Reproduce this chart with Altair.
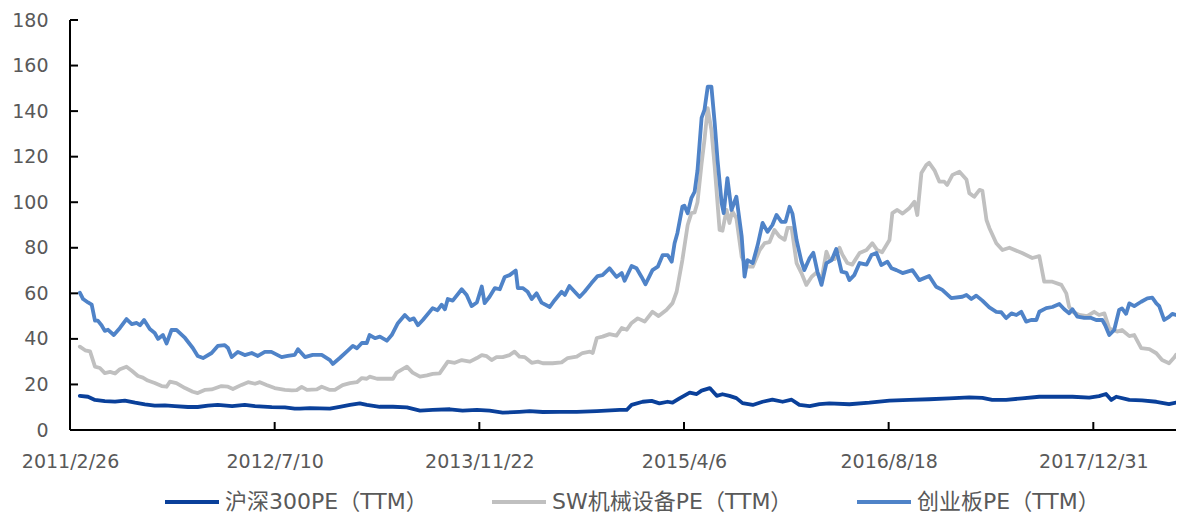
import altair as alt
import pandas as pd

# ---------------- data ----------------
SERIES = ["沪深300PE（TTM）", "SW机械设备PE（TTM）", "创业板PE（TTM）"]
COLORS = ["#0A409A", "#C0C0C0", "#4F83C8"]

HS300_DATES = [
    "2011-03-22", "2011-04-11", "2011-04-28", "2011-05-22", "2011-06-16", "2011-07-10",
    "2011-08-04", "2011-08-28", "2011-09-21", "2011-10-16", "2011-11-09", "2011-12-11",
    "2012-01-04", "2012-01-29", "2012-02-22", "2012-03-28", "2012-04-28", "2012-05-23",
    "2012-07-03", "2012-08-04", "2012-08-28", "2012-09-10", "2012-10-04", "2012-11-22",
    "2012-12-16", "2013-01-10", "2013-02-03", "2013-02-20", "2013-03-24", "2013-04-25",
    "2013-05-29", "2013-06-30", "2013-07-31", "2013-09-11", "2013-10-12", "2013-11-16",
    "2013-12-17", "2014-01-18", "2014-02-28", "2014-03-25", "2014-04-26", "2014-06-06",
    "2014-07-18", "2014-09-05", "2014-10-31", "2014-11-17", "2014-11-29", "2014-12-26",
    "2015-01-17", "2015-02-05", "2015-02-25", "2015-03-09", "2015-03-26", "2015-04-20",
    "2015-05-07", "2015-05-19", "2015-06-08", "2015-06-25", "2015-07-09", "2015-07-26",
    "2015-08-12", "2015-08-27", "2015-09-21", "2015-10-15", "2015-11-08", "2015-12-03",
    "2015-12-25", "2016-01-13", "2016-02-07", "2016-03-02", "2016-03-26", "2016-05-14",
    "2016-07-02", "2016-08-20", "2016-10-08", "2016-11-25", "2017-01-13", "2017-03-03",
    "2017-04-04", "2017-04-28", "2017-06-01", "2017-07-10", "2017-08-21", "2017-10-01",
    "2017-11-10", "2017-12-21", "2018-01-14", "2018-01-31", "2018-02-13", "2018-02-25",
    "2018-03-29", "2018-04-29", "2018-06-03", "2018-07-04", "2018-07-21",
]
HS300_VALUES = [
    15.0, 14.6, 13.2, 12.7, 12.5, 12.9,
    12.0, 11.3, 10.7, 10.8, 10.5, 10.1,
    10.1, 10.7, 11.0, 10.5, 11.0, 10.5,
    10.0, 9.9, 9.4, 9.4, 9.6, 9.4,
    10.2, 11.0, 11.7, 11.0, 10.2, 10.2,
    9.9, 8.5, 8.8, 9.1, 8.5, 8.8,
    8.5, 7.6, 8.0, 8.3, 7.9, 8.0,
    8.0, 8.3, 8.8, 8.8, 11.0, 12.4,
    12.8, 11.7, 12.4, 12.0, 13.9, 16.4,
    15.8, 17.3, 18.4, 15.0, 15.7, 15.0,
    14.0, 11.8, 11.0, 12.4, 13.3, 12.4,
    13.3, 11.0, 10.5, 11.4, 11.7, 11.3,
    12.0, 12.9, 13.2, 13.5, 13.9, 14.3,
    14.1, 13.2, 13.2, 13.9, 14.6, 14.6,
    14.6, 14.2, 14.9, 15.8, 13.2, 14.6,
    13.2, 13.0, 12.4, 11.4, 12.0,
]

SW_DATES = [
    "2011-03-22", "2011-04-04", "2011-04-16", "2011-04-28", "2011-05-10", "2011-05-22",
    "2011-06-04", "2011-06-16", "2011-06-28", "2011-07-14", "2011-07-27", "2011-08-11",
    "2011-08-23", "2011-09-04", "2011-09-21", "2011-10-08", "2011-10-20", "2011-10-28",
    "2011-11-13", "2011-12-04", "2011-12-23", "2012-01-04", "2012-01-21", "2012-02-07",
    "2012-03-02", "2012-03-18", "2012-03-30", "2012-04-20", "2012-05-06", "2012-05-23",
    "2012-06-04", "2012-06-20", "2012-07-10", "2012-08-04", "2012-08-21", "2012-09-02",
    "2012-09-14", "2012-09-27", "2012-10-21", "2012-11-02", "2012-11-22", "2012-12-04",
    "2012-12-23", "2013-01-10", "2013-01-27", "2013-02-08", "2013-02-20", "2013-02-27",
    "2013-03-17", "2013-04-05", "2013-04-25", "2013-05-04", "2013-05-29", "2013-06-12",
    "2013-06-30", "2013-07-17", "2013-07-31", "2013-08-17", "2013-09-06", "2013-09-23",
    "2013-10-10", "2013-10-30", "2013-11-16", "2013-11-28", "2013-12-10", "2013-12-22",
    "2014-01-03", "2014-01-18", "2014-02-04", "2014-02-16", "2014-02-28", "2014-03-13",
    "2014-03-30", "2014-04-14", "2014-04-26", "2014-05-20", "2014-06-11", "2014-06-26",
    "2014-07-18", "2014-08-01", "2014-08-19", "2014-08-26", "2014-09-05", "2014-09-19",
    "2014-10-06", "2014-10-23", "2014-11-05", "2014-11-17", "2014-11-29", "2014-12-14",
    "2014-12-31", "2015-01-19", "2015-02-03", "2015-02-22", "2015-03-09", "2015-03-19",
    "2015-04-02", "2015-04-15", "2015-04-24", "2015-05-02", "2015-05-09", "2015-05-19",
    "2015-05-26", "2015-06-03", "2015-06-12", "2015-06-20", "2015-07-02", "2015-07-09",
    "2015-07-19", "2015-07-26", "2015-08-02", "2015-08-12", "2015-08-25", "2015-09-06",
    "2015-09-21", "2015-10-08", "2015-10-20", "2015-11-01", "2015-11-13", "2015-11-25",
    "2015-12-08", "2015-12-15", "2015-12-25", "2016-01-06", "2016-01-18", "2016-01-30",
    "2016-02-12", "2016-02-24", "2016-03-07", "2016-03-19", "2016-03-26", "2016-04-08",
    "2016-04-20", "2016-04-27", "2016-05-09", "2016-05-21", "2016-06-08", "2016-06-25",
    "2016-07-09", "2016-07-21", "2016-08-02", "2016-08-20", "2016-08-27", "2016-09-08",
    "2016-09-21", "2016-10-08", "2016-10-20", "2016-10-27", "2016-11-06", "2016-11-18",
    "2016-11-25", "2016-12-08", "2016-12-20", "2017-01-01", "2017-01-08", "2017-01-21",
    "2017-02-07", "2017-02-24", "2017-03-03", "2017-03-15", "2017-03-28", "2017-04-04",
    "2017-04-14", "2017-04-21", "2017-05-08", "2017-05-23", "2017-06-09", "2017-07-10",
    "2017-08-04", "2017-08-21", "2017-09-02", "2017-09-22", "2017-10-14", "2017-10-26",
    "2017-11-02", "2017-11-10", "2017-11-27", "2017-12-16", "2018-01-02", "2018-01-14",
    "2018-01-27", "2018-02-08", "2018-02-27", "2018-03-11", "2018-03-29", "2018-04-10",
    "2018-04-27", "2018-05-17", "2018-06-03", "2018-06-17", "2018-07-04", "2018-07-17",
    "2018-07-21",
]
SW_VALUES = [
    36.6, 35.0, 34.5, 27.8, 27.2, 25.0,
    25.5, 24.8, 26.7, 27.8, 26.0, 23.7,
    23.0, 21.7, 20.6, 19.3, 19.0, 21.2,
    20.6, 18.4, 16.8, 16.2, 17.6, 17.8,
    19.3, 19.0, 18.0, 19.8, 21.0, 20.3,
    21.0, 19.8, 18.4, 17.6, 17.4, 17.5,
    18.9, 17.6, 17.8, 19.0, 17.6, 17.6,
    19.7, 20.6, 21.0, 22.8, 22.5, 23.4,
    22.5, 22.5, 22.5, 25.2, 27.8, 25.2,
    23.4, 24.0, 24.6, 24.9, 30.0, 29.5,
    30.7, 30.0, 31.6, 32.9, 32.4, 30.7,
    32.0, 32.0, 32.9, 34.4, 32.2, 32.0,
    29.5, 30.0, 29.3, 29.3, 29.7, 31.6,
    32.2, 33.8, 34.4, 33.8, 40.4, 41.0,
    42.1, 41.4, 44.8, 44.0, 47.0, 49.0,
    47.6, 51.9, 50.0, 52.7, 55.7, 60.7,
    74.6, 90.0, 95.2, 95.5, 100.0, 117.0,
    127.3, 141.3, 131.7, 115.6, 87.8, 87.5,
    96.6, 90.9, 96.0, 93.0, 76.0, 71.7,
    71.7, 79.0, 82.0, 82.5, 87.8, 85.0,
    83.5, 88.7, 88.7, 73.3, 68.9, 63.7,
    67.3, 69.2, 66.0, 78.3, 75.0, 75.0,
    80.0, 77.0, 73.3, 72.6, 77.7, 79.0,
    82.0, 79.0, 78.0, 83.4, 95.2, 96.6,
    95.0, 97.5, 100.2, 94.4, 112.8, 116.3,
    117.3, 114.0, 109.0, 109.0, 107.6, 112.0,
    113.4, 110.0, 104.0, 102.4, 105.4, 105.0,
    92.2, 88.7, 82.0, 79.0, 80.0, 77.7,
    75.5, 76.3, 65.1, 65.1, 63.7, 60.0,
    54.1, 51.9, 50.5, 50.0, 51.9, 50.5,
    51.2, 44.6, 43.2, 43.9, 41.2, 41.7,
    35.9, 35.5, 33.7, 30.7, 29.3, 31.9,
    33.0,
]

CYB_DATES = [
    "2011-03-22", "2011-03-30", "2011-04-11", "2011-04-20", "2011-04-28", "2011-05-05",
    "2011-05-14", "2011-05-22", "2011-05-30", "2011-06-13", "2011-06-28", "2011-07-14",
    "2011-07-27", "2011-08-08", "2011-08-16", "2011-08-26", "2011-09-09", "2011-09-21",
    "2011-09-29", "2011-10-11", "2011-10-20", "2011-11-01", "2011-11-13", "2011-12-04",
    "2011-12-23", "2012-01-04", "2012-01-17", "2012-02-07", "2012-02-22", "2012-03-10",
    "2012-03-18", "2012-03-27", "2012-04-11", "2012-04-28", "2012-05-15", "2012-05-30",
    "2012-06-16", "2012-07-02", "2012-07-27", "2012-08-11", "2012-08-28", "2012-09-05",
    "2012-09-22", "2012-10-11", "2012-11-02", "2012-11-22", "2012-11-29", "2012-12-16",
    "2013-01-02", "2013-01-17", "2013-01-27", "2013-02-08", "2013-02-20", "2013-02-27",
    "2013-03-12", "2013-03-24", "2013-04-10", "2013-04-22", "2013-05-07", "2013-05-24",
    "2013-06-05", "2013-06-15", "2013-06-25", "2013-07-07", "2013-07-31", "2013-08-12",
    "2013-08-22", "2013-08-30", "2013-09-06", "2013-09-18", "2013-10-10", "2013-10-22",
    "2013-11-03", "2013-11-16", "2013-11-28", "2013-12-05", "2013-12-17", "2013-12-30",
    "2014-01-11", "2014-01-23", "2014-02-04", "2014-02-19", "2014-02-24", "2014-03-08",
    "2014-03-20", "2014-03-30", "2014-04-11", "2014-04-23", "2014-05-13", "2014-05-25",
    "2014-06-11", "2014-06-19", "2014-06-30", "2014-07-13", "2014-07-25", "2014-08-06",
    "2014-08-23", "2014-09-07", "2014-09-19", "2014-10-06", "2014-10-23", "2014-11-05",
    "2014-11-12", "2014-11-29", "2014-12-11", "2014-12-23", "2015-01-02", "2015-01-19",
    "2015-02-01", "2015-02-13", "2015-02-25", "2015-03-07", "2015-03-14", "2015-03-21",
    "2015-04-02", "2015-04-07", "2015-04-15", "2015-04-24", "2015-05-02", "2015-05-09",
    "2015-05-19", "2015-05-26", "2015-06-03", "2015-06-12", "2015-06-20", "2015-06-27",
    "2015-07-07", "2015-07-12", "2015-07-21", "2015-07-31", "2015-08-12", "2015-08-25",
    "2015-09-01", "2015-09-08", "2015-09-21", "2015-10-03", "2015-10-15", "2015-10-27",
    "2015-11-08", "2015-11-18", "2015-11-30", "2015-12-10", "2015-12-20", "2015-12-27",
    "2016-01-06", "2016-01-18", "2016-01-25", "2016-02-07", "2016-02-16", "2016-02-26",
    "2016-03-07", "2016-03-19", "2016-04-01", "2016-04-12", "2016-04-25", "2016-05-07",
    "2016-05-14", "2016-05-26", "2016-06-08", "2016-06-25", "2016-07-07", "2016-07-19",
    "2016-07-31", "2016-08-15", "2016-08-25", "2016-09-06", "2016-09-21", "2016-10-15",
    "2016-11-01", "2016-11-25", "2016-12-12", "2016-12-27", "2017-01-18", "2017-02-14",
    "2017-02-24", "2017-03-08", "2017-03-20", "2017-04-04", "2017-04-21", "2017-05-08",
    "2017-05-20", "2017-06-01", "2017-06-14", "2017-06-26", "2017-07-08", "2017-07-20",
    "2017-08-01", "2017-08-14", "2017-08-21", "2017-09-07", "2017-09-22", "2017-10-09",
    "2017-10-21", "2017-11-02", "2017-11-10", "2017-11-22", "2017-12-09", "2017-12-26",
    "2018-01-07", "2018-01-22", "2018-01-29", "2018-02-08", "2018-02-20", "2018-03-04",
    "2018-03-11", "2018-03-21", "2018-03-29", "2018-04-10", "2018-04-27", "2018-05-12",
    "2018-05-24", "2018-06-03", "2018-06-10", "2018-06-22", "2018-07-04", "2018-07-12",
    "2018-07-21",
]
CYB_VALUES = [
    60.3, 57.5, 56.0, 55.0, 48.0, 48.0,
    46.0, 43.5, 44.0, 41.7, 44.8, 48.7,
    46.5, 47.0, 46.0, 48.3, 44.3, 42.6,
    40.0, 41.7, 38.0, 43.9, 44.0, 40.4,
    36.0, 32.5, 31.6, 33.8, 36.9, 37.3,
    36.0, 32.0, 34.3, 32.9, 33.8, 32.5,
    34.3, 34.3, 32.0, 32.5, 33.0, 35.5,
    32.0, 33.0, 33.0, 30.7, 29.0, 31.6,
    34.4, 36.9, 35.9, 38.2, 38.2, 41.7,
    40.3, 41.0, 39.2, 41.7, 46.9, 50.5,
    48.3, 49.0, 46.0, 48.3, 53.5, 52.6,
    55.0, 53.0, 57.5, 56.8, 61.8, 59.3,
    54.4, 56.0, 63.0, 55.7, 58.5, 62.3,
    61.8, 67.2, 68.0, 70.0, 62.3, 62.3,
    60.7, 57.5, 60.0, 55.9, 54.0, 57.0,
    60.7, 59.3, 63.2, 60.7, 58.4, 60.7,
    64.5, 67.6, 68.0, 71.0, 67.2, 68.9,
    65.5, 72.0, 71.0, 67.3, 64.0, 70.2,
    71.7, 76.8, 76.8, 73.9, 82.0, 86.5,
    98.0, 98.5, 95.2, 101.8, 104.6, 114.0,
    137.0, 140.5, 150.7, 150.7, 134.8, 118.5,
    99.6, 95.2, 110.6, 96.6, 102.4, 84.9,
    67.3, 74.6, 73.3, 81.2, 90.9, 87.0,
    90.0, 94.4, 91.4, 91.4, 98.0, 95.0,
    83.4, 73.9, 70.2, 75.5, 77.8, 69.5,
    63.7, 73.3, 74.6, 79.5, 69.5, 69.0,
    65.8, 68.0, 73.3, 72.6, 76.8, 77.7,
    72.4, 73.9, 71.0, 70.2, 68.9, 70.2,
    65.8, 67.6, 62.9, 61.5, 57.9, 58.5,
    59.3, 57.5, 59.0, 56.8, 53.8, 51.9,
    51.7, 49.1, 51.2, 50.5, 51.9, 47.6,
    48.3, 48.3, 51.9, 53.5, 54.0, 55.3,
    53.0, 51.3, 53.0, 49.8, 49.2, 49.2,
    48.3, 48.3, 46.0, 41.7, 43.9, 52.7,
    53.4, 51.0, 55.6, 54.4, 56.3, 57.8,
    58.1, 55.6, 54.4, 48.3, 49.7, 51.0,
    50.5,
]

Y_TICKS = [0, 20, 40, 60, 80, 100, 120, 140, 160, 180]
X_TICKS = ["2011-02-26", "2012-07-10", "2013-11-22", "2015-04-06", "2016-08-18", "2017-12-31"]
X_START = "2011-02-26"
X_END = "2018-07-21"

# ---------------- build tables ----------------
frames = []
for name, d, v in [(SERIES[0], HS300_DATES, HS300_VALUES),
                   (SERIES[1], SW_DATES, SW_VALUES),
                   (SERIES[2], CYB_DATES, CYB_VALUES)]:
    frames.append(pd.DataFrame({"date": pd.to_datetime(d), "pe": v, "series": name}))
df = pd.concat(frames, ignore_index=True)

ytick_df = pd.DataFrame({"v": Y_TICKS})
xtick_df = pd.DataFrame({"date": pd.to_datetime(X_TICKS)})


def dt(s):
    t = pd.Timestamp(s)
    return alt.DateTime(year=t.year, month=t.month, date=t.day)


W, H = 1106, 410
AXIS_FONT = "DejaVu Sans"
TEXT_COLOR = "#595959"

x_scale = alt.Scale(domain=[dt(X_START), dt(X_END)])
y_scale = alt.Scale(domain=[0, 180], nice=False)

lines = alt.Chart(df).mark_line(strokeWidth=3.8, strokeJoin="round", strokeCap="round").encode(
    x=alt.X("date:T", scale=x_scale,
            axis=alt.Axis(values=[dt(s) for s in X_TICKS], format="%Y/%-m/%-d",
                          title=None, domain=False, ticks=False, tickSize=0, grid=False,
                          labelFont=AXIS_FONT, labelFontSize=19, labelColor=TEXT_COLOR,
                          labelPadding=22, labelFlush=False, labelOverlap=False)),
    y=alt.Y("pe:Q", scale=y_scale,
            axis=alt.Axis(values=Y_TICKS, title=None, domain=False, ticks=False, tickSize=0,
                          grid=False, labelFont=AXIS_FONT, labelFontSize=19,
                          labelColor=TEXT_COLOR, labelPadding=22)),
    color=alt.Color("series:N",
                    scale=alt.Scale(domain=SERIES, range=COLORS),
                    legend=alt.Legend(title=None, orient="none", direction="horizontal",
                                      legendX=93, legendY=453,
                                      symbolType="stroke", symbolSize=2916,
                                      symbolStrokeWidth=4, labelOffset=4,
                                      columnPadding=56,
                                      labelFont="DejaVu Sans, Noto Sans CJK SC",
                                      labelFontSize=22, labelColor=TEXT_COLOR,
                                      labelLimit=400)),
)

y_domain = alt.Chart(ytick_df).mark_rule(color="black", strokeWidth=2).encode(
    x=alt.value(0), y=alt.value(0), y2=alt.value(H))
x_domain = alt.Chart(ytick_df).mark_rule(color="black", strokeWidth=2).encode(
    x=alt.value(0), x2=alt.value(W), y=alt.value(H))
y_ticks = alt.Chart(ytick_df).mark_rule(color="black", strokeWidth=2).encode(
    y=alt.Y("v:Q", scale=y_scale), x=alt.value(0), x2=alt.value(8))
x_ticks = alt.Chart(xtick_df).mark_rule(color="black", strokeWidth=2).encode(
    x=alt.X("date:T", scale=x_scale), y=alt.value(H - 8), y2=alt.value(H))

chart = alt.layer(lines, y_ticks, x_ticks, y_domain, x_domain).properties(
    width=W, height=H,
    autosize=alt.AutoSizeParams(type="none"),
    padding={"left": 62, "top": 12, "right": 0, "bottom": 88},
    background="white",
).configure_view(stroke=None)

chart.save("out.html", embed_options={"renderer": "svg", "actions": False})
